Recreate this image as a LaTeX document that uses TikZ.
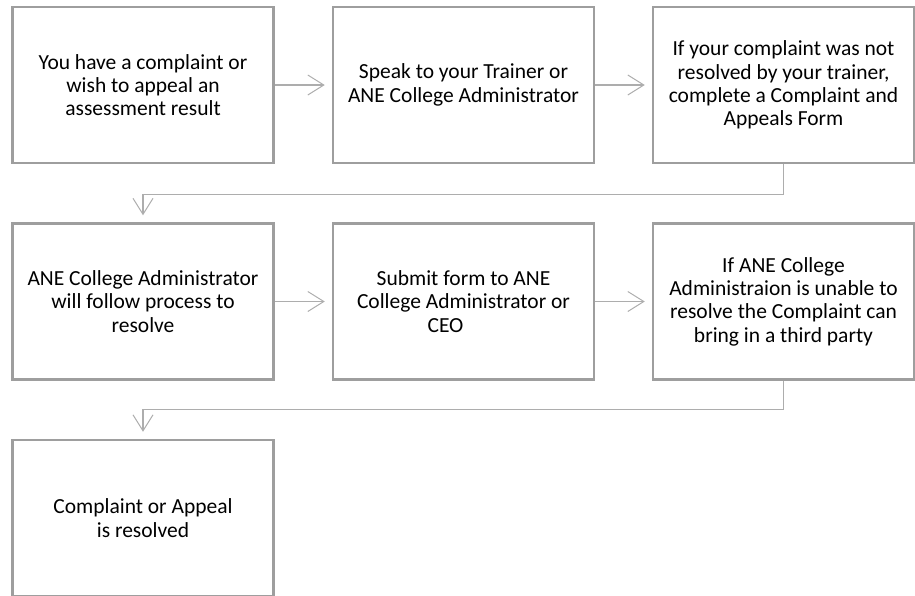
\documentclass[tikz,border=0pt]{standalone}
\usepackage{fontspec}
\setmainfont{Carlito}
\usetikzlibrary{arrows.meta}
\definecolor{boxgray}{HTML}{9E9E9E}
\definecolor{linegray}{HTML}{ADADAD}
\begin{document}
\begin{tikzpicture}[x=1pt,y=-1pt,
  stepbox/.style={draw=boxgray, line width=2.5pt, fill=white, minimum width=261pt, minimum height=156pt, inner sep=0pt, align=center, font=\fontsize{21.5pt}{23.3pt}\selectfont, text=black},
  flow/.style={draw=linegray, line width=1.2pt, -{Straight Barb[length=16pt,width=20pt,line width=1pt]}, shorten >=7pt}]
\clip (0,0) rectangle (915,595);
\useasboundingbox (0,0) rectangle (915,595);
\node[stepbox] (a) at (143,85) {You have a complaint or\\wish to appeal an\\assessment result};
\node[stepbox] (b) at (463.5,85) {Speak to your Trainer or\\ANE College Administrator};
\node[stepbox] (c) at (783.5,85) {If your complaint was not\\resolved by your trainer,\\complete a Complaint and\\Appeals Form};
\node[stepbox] (d) at (143,301.5) {ANE College Administrator\\will follow process to\\resolve};
\node[stepbox] (e) at (463.5,301.5) {Submit form to ANE\\College Administrator or\\CEO\rule{36pt}{0pt}};
\node[stepbox] (f) at (783.5,301.5) {If ANE College\\Administraion is unable to\\resolve the Complaint can\\bring in a third party};
\node[stepbox] (g) at (143,518) {Complaint or Appeal\\is resolved};
\draw[flow] (a) -- (b);
\draw[flow] (b) -- (c);
\draw[flow] (c.south) -- ++(0,30) -| (d.north);
\draw[flow] (d) -- (e);
\draw[flow] (e) -- (f);
\draw[flow] (f.south) -- ++(0,29) -| (g.north);
\end{tikzpicture}
\end{document}
